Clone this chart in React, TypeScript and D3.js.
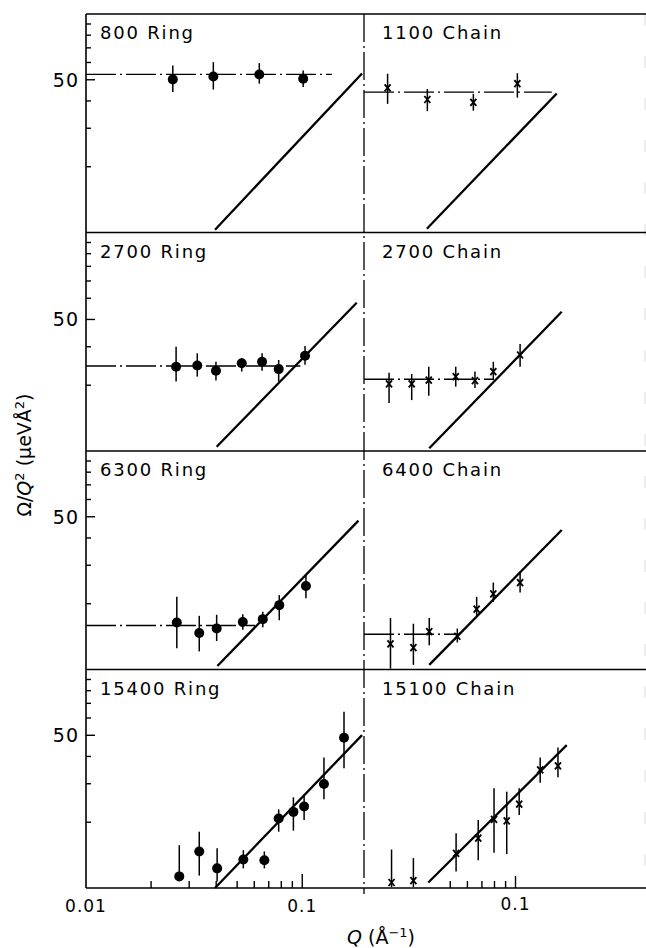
import React from 'react';
import * as d3 from 'd3';

// [Q, value, error low, error high]
type Pt = [number, number, number, number];

const ring800: Pt[] = [
  [0.0252, 50.2, 43.9, 58.1], [0.0388, 51.8, 45.1, 60.2], [0.0633, 52.9, 48.0, 59.6], [0.101, 50.5, 46.3, 55.1],
];
const chain1100: Pt[] = [
  [0.0257, 45.9, 38.8, 53.3], [0.0392, 40.6, 35.9, 45.4], [0.0639, 39.4, 36.1, 43.1], [0.102, 48.0, 41.4, 53.6],
];
const ring2700: Pt[] = [
  [0.0261, 24.3, 20.8, 30.0], [0.0327, 24.6, 21.9, 28.0], [0.0399, 23.3, 21.0, 25.6], [0.0525, 25.2, 23.1, 26.6],
  [0.0652, 25.6, 23.3, 28.0], [0.0778, 23.7, 20.8, 26.1], [0.103, 27.3, 24.8, 30.2],
];
const chain2700: Pt[] = [
  [0.0261, 20.3, 16.6, 22.8], [0.0332, 20.3, 17.1, 22.5], [0.0398, 21.1, 17.9, 24.3], [0.053, 21.9, 19.7, 24.3],
  [0.065, 21.0, 19.4, 23.1], [0.079, 23.1, 21.1, 25.6], [0.105, 27.5, 24.3, 30.9],
];
const ring6300: Pt[] = [
  [0.0263, 16.4, 12.5, 21.5], [0.0334, 14.7, 12.1, 17.6], [0.0402, 15.4, 13.5, 17.8], [0.0531, 16.5, 15.2, 17.9],
  [0.0657, 17.0, 15.6, 18.4], [0.0783, 19.7, 16.8, 21.9], [0.104, 24.1, 21.2, 27.1],
];
const chain6400: Pt[] = [
  [0.0265, 13.1, 10.1, 17.2], [0.0338, 12.6, 10.5, 16.2], [0.04, 14.9, 12.9, 17.2], [0.0539, 14.2, 13.3, 15.4],
  [0.0662, 18.9, 17.4, 21.5], [0.079, 22.2, 20.4, 25.0], [0.105, 25.0, 22.5, 27.7],
];
const ring15400: Pt[] = [
  [0.027, 11.3, 10.9, 15.7], [0.0334, 14.7, 11.4, 18.1], [0.0404, 12.3, 10.7, 15.2], [0.0534, 13.5, 12.3, 14.9],
  [0.0668, 13.4, 12.3, 14.7], [0.0778, 20.8, 18.1, 22.9], [0.091, 22.3, 18.3, 26.0], [0.102, 23.6, 20.5, 26.7],
  [0.126, 29.9, 25.5, 39.6], [0.156, 48.7, 35.3, 64.1],
];
const chain15100: Pt[] = [
  [0.0268, 10.6, 10.1, 15.0], [0.0338, 10.8, 10.1, 13.7], [0.0532, 14.4, 11.9, 17.8], [0.0673, 16.9, 13.4, 20.5],
  [0.0796, 20.6, 14.5, 28.6], [0.0911, 20.3, 14.3, 27.6], [0.104, 24.2, 21.6, 28.6], [0.13, 34.7, 30.3, 39.6],
  [0.157, 36.2, 32.1, 44.0],
];

// fitted straight lines (Q, value) end points
const fitRing800 = [[0.0395, 10.3], [0.189, 53.4]];
const fitChain1100 = [[0.039, 10.4], [0.155, 43.3]];
const fitRing2700 = [[0.0402, 10.46], [0.1786, 47.7]];
const fitChain2700 = [[0.04, 10.29], [0.1634, 43.4]];
const fitRing6300 = [[0.0405, 10.37], [0.182, 48.0]];
const fitChain6400 = [[0.04, 10.5], [0.1634, 43.5]];
const fitRing15400 = [[0.0395, 10.0], [0.189, 50.1]];
const fitChain15100 = [[0.0396, 10.6], [0.1723, 45.1]];

// dash-dot plateau: [value, Q where it stops]
const levelRing800 = [52.9, 0.137];
const levelChain1100 = [43.9, 0.147];
const levelRing2700 = [24.5, 0.098];
const levelChain2700 = [21.3, 0.079];
const levelRing6300 = [15.9, 0.0605];
const levelChain6400 = [14.5, 0.0539];

const yTicks = [20, 30, 40, 50, 60, 70, 80, 90];
const yLabelAt = [50, 40, 50, 50]; // where the "50" label sits in each row
const xTicksLeft = [0.02, 0.03, 0.04, 0.05, 0.06, 0.07, 0.08, 0.09, 0.1];
const xTicksRight = [0.05, 0.06, 0.07, 0.08, 0.09, 0.1];
const xLabelsLeft = [0.01, 0.1];
const xLabelsRight = [0.1];

const panels = [
  { row: 0, col: 0, title: '800 Ring', data: ring800, kind: 'ring', fit: fitRing800, level: levelRing800 },
  { row: 0, col: 1, title: '1100 Chain', data: chain1100, kind: 'chain', fit: fitChain1100, level: levelChain1100 },
  { row: 1, col: 0, title: '2700 Ring', data: ring2700, kind: 'ring', fit: fitRing2700, level: levelRing2700 },
  { row: 1, col: 1, title: '2700 Chain', data: chain2700, kind: 'chain', fit: fitChain2700, level: levelChain2700 },
  { row: 2, col: 0, title: '6300 Ring', data: ring6300, kind: 'ring', fit: fitRing6300, level: levelRing6300 },
  { row: 2, col: 1, title: '6400 Chain', data: chain6400, kind: 'chain', fit: fitChain6400, level: levelChain6400 },
  { row: 3, col: 0, title: '15400 Ring', data: ring15400, kind: 'ring', fit: fitRing15400, level: null },
  { row: 3, col: 1, title: '15100 Chain', data: chain15100, kind: 'chain', fit: fitChain15100, level: null },
];

const W = 646;
const H = 948;
const left = 86;
const mid = 364;
const right = 645;
const top = 14;
const rowH = 218.5;
const bottom = top + rowH * 4;
const font = "'DejaVu Sans', sans-serif";

const xScales = [
  d3.scaleLog().domain([0.01, 0.193]).range([left, mid]),
  d3.scaleLog().domain([0.02, 0.4]).range([mid, right + 1]),
];
const yScales = [0, 1, 2, 3].map(r =>
  d3.scaleLog().domain([10, 100]).range([top + rowH * (r + 1), top + rowH * r])
);

const App = () => {
  return (
    <svg width={W} height={H} style={{ display: 'block', position: 'absolute', left: 0, top: 0, background: '#fff' }}>
      {/* frame */}
      <line x1={left} x2={left} y1={top} y2={bottom} stroke="#000" strokeWidth={1.6} />
      <line x1={mid} x2={mid} y1={top} y2={bottom + 6} stroke="#000" strokeWidth={1.3} strokeDasharray="28 4 2 4" />
      <line x1={right} x2={right} y1={top} y2={bottom} stroke="#ddd" strokeWidth={1} strokeDasharray="12 30" />
      {[0, 1, 2, 3, 4].map(r => (
        <line key={r} x1={left} x2={right + 1} y1={top + rowH * r} y2={top + rowH * r} stroke="#000" strokeWidth={1.6} />
      ))}

      {/* y ticks and labels */}
      {yScales.map((y, r) => (
        <g key={r}>
          {yTicks.map(t => (
            <line key={t} x1={left} x2={left + (t === yLabelAt[r] ? 9 : 5)} y1={y(t)} y2={y(t)} stroke="#000" strokeWidth={1.4} />
          ))}
          <text x={left - 7} y={y(yLabelAt[r]) + 7} textAnchor="end" fontFamily={font} fontSize={19} letterSpacing={1}>50</text>
        </g>
      ))}

      {/* x ticks on the bottom row */}
      {xTicksLeft.map(t => (
        <line key={'l' + t} x1={xScales[0](t)} x2={xScales[0](t)} y1={bottom} y2={bottom - (t === 0.1 ? 14 : 7)} stroke="#000" strokeWidth={1.4} />
      ))}
      {xTicksRight.map(t => (
        <line key={'r' + t} x1={xScales[1](t)} x2={xScales[1](t)} y1={bottom} y2={bottom - (t === 0.1 ? 12 : 7)} stroke="#000" strokeWidth={1.4} />
      ))}
      {xLabelsLeft.map(t => (
        <text key={'ll' + t} x={xScales[0](t)} y={bottom + 24} textAnchor="middle" fontFamily={font} fontSize={17} letterSpacing={1}>
          {t === 0.01 ? '0.01' : '0.1'}
        </text>
      ))}
      {xLabelsRight.map(t => (
        <text key={'rl' + t} x={xScales[1](t)} y={bottom + 22} textAnchor="middle" fontFamily={font} fontSize={17} letterSpacing={1}>0.1</text>
      ))}

      {/* panels */}
      {panels.map(p => {
        const x = xScales[p.col];
        const y = yScales[p.row];
        const x0 = p.col === 0 ? left : mid;
        const line = d3.line<number[]>().x(d => x(d[0])).y(d => y(d[1]));
        return (
          <g key={p.title}>
            <text x={x0 + (p.col === 0 ? 14 : 18)} y={top + rowH * p.row + 25} fontFamily={font} fontSize={18} letterSpacing={1.8}>{p.title}</text>
            {p.level && (
              <line x1={x0} x2={x(p.level[1])} y1={y(p.level[0])} y2={y(p.level[0])} stroke="#000" strokeWidth={1.4} strokeDasharray="30 4 2 4" />
            )}
            <path d={line(p.fit) || ''} fill="none" stroke="#000" strokeWidth={2.3} />
            {p.data.map((d, i) => (
              <g key={i}>
                <line x1={x(d[0])} x2={x(d[0])} y1={y(d[2])} y2={y(d[3])} stroke="#000" strokeWidth={1.5} />
                {p.kind === 'ring' ? (
                  <circle cx={x(d[0])} cy={y(d[1])} r={5} fill="#000" />
                ) : (
                  <path
                    d={`M${x(d[0]) - 3},${y(d[1]) - 3.5}L${x(d[0]) + 3},${y(d[1]) + 3.5}M${x(d[0]) + 3},${y(d[1]) - 3.5}L${x(d[0]) - 3},${y(d[1]) + 3.5}`}
                    stroke="#000" strokeWidth={1.8} fill="none"
                  />
                )}
              </g>
            ))}
          </g>
        );
      })}

      {/* axis titles */}
      <text transform={`translate(31,${top + rowH * 2 + 4}) rotate(-90)`} textAnchor="middle" fontFamily={font} fontSize={19}>
        Ω/<tspan fontStyle="italic">Q</tspan><tspan dy={-7} fontSize={13}>2</tspan><tspan dy={7}> (μeVÅ</tspan><tspan dy={-7} fontSize={13}>2</tspan><tspan dy={7}>)</tspan>
      </text>
      <text x={381} y={bottom + 56} textAnchor="middle" fontFamily={font} fontSize={19}>
        <tspan fontStyle="italic">Q</tspan> (Å<tspan dy={-7} fontSize={13}>−1</tspan><tspan dy={7}>)</tspan>
      </text>
    </svg>
  );
};

export default App;
